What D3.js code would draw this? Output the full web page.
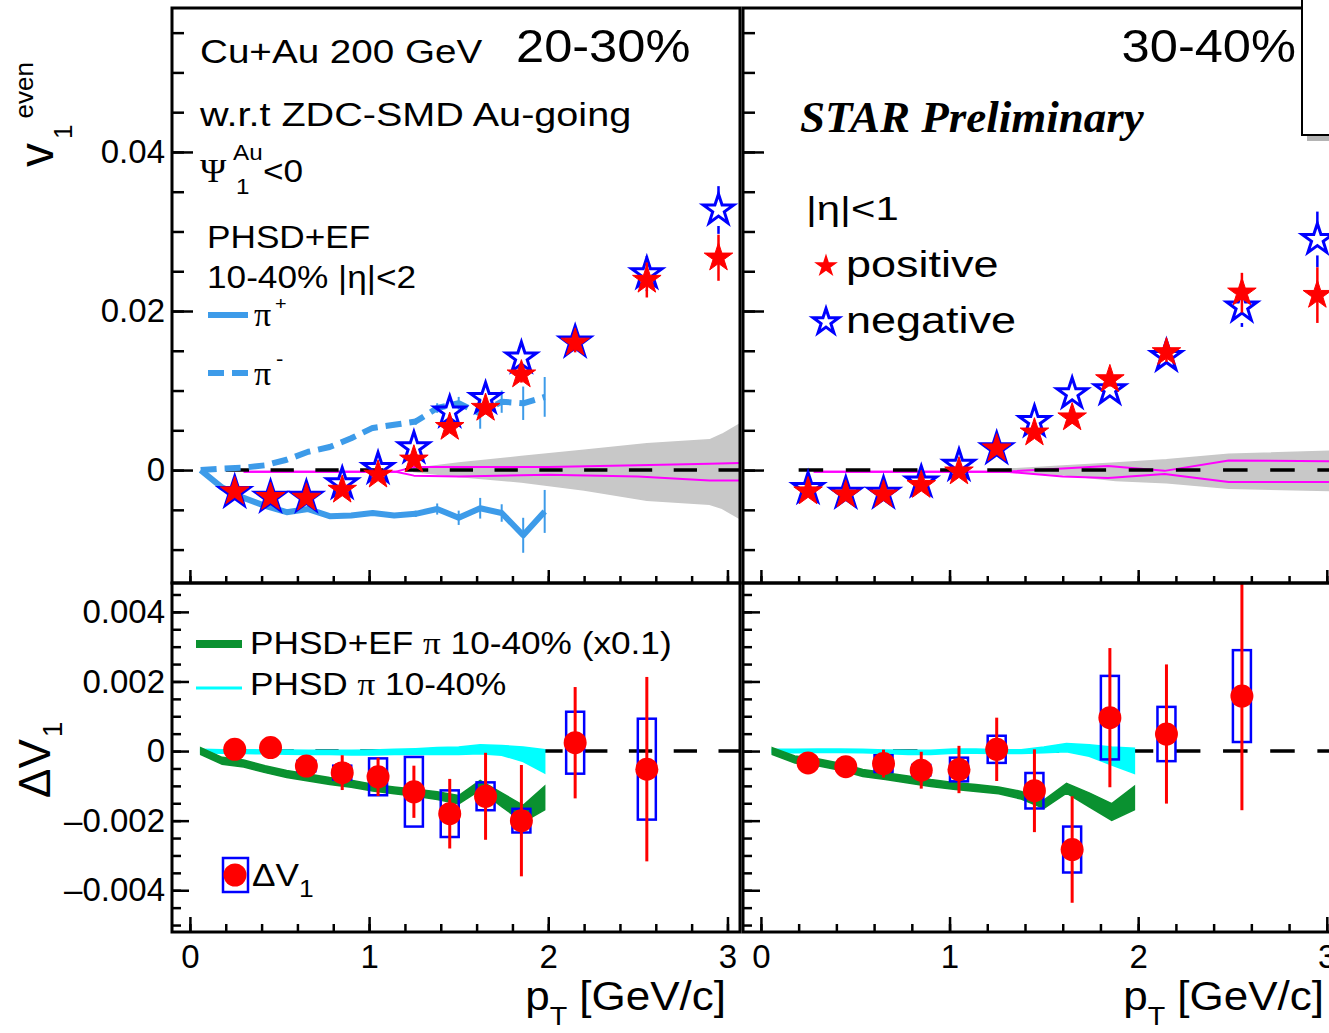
<!DOCTYPE html>
<meta charset="utf-8">
<title>Cu+Au v1 even / Delta v1</title>
<style>
  body { margin: 0; background: #fff; }
  svg { display: block; }
  text { font-family: "Liberation Sans", Arial, sans-serif; fill: #000; }
</style>
<body>
<script src="https://d3js.org/d3.v7.min.js"></script>
<script>

// ---- values ----
let ptBins = [0.25, 0.45, 0.65, 0.85, 1.05, 1.25, 1.45, 1.65, 1.85, 2.15, 2.55, 2.95];

// v1 even, 20-30%
let pos2030 = [-0.0027, -0.0034, -0.0035, -0.0025, -0.0006, 0.0013, 0.0054, 0.0078, 0.0120, 0.0160, 0.0239, 0.0267];
let pos2030Err = [0.0003, 0.0003, 0.0003, 0.0003, 0.0004, 0.0005, 0.0006, 0.0008, 0.0010, 0.0012, 0.0022, 0.0029];
let neg2030 = [-0.0028, -0.0034, -0.0034, -0.0017, 0.0002, 0.0028, 0.0073, 0.0090, 0.0141, 0.0161, 0.0247, 0.0327];
let neg2030Err = [0.0003, 0.0003, 0.0003, 0.0003, 0.0004, 0.0005, 0.0006, 0.0008, 0.0010, 0.0012, 0.0022, 0.0030];

// v1 even, 30-40%
let pos3040 = [-0.0027, -0.0031, -0.0031, -0.0019, -0.0002, 0.0027, 0.0047, 0.0066, 0.0114, 0.0148, 0.0223, 0.0220];
let pos3040Err = [0.0003, 0.0003, 0.0003, 0.0003, 0.0004, 0.0005, 0.0006, 0.0008, 0.0009, 0.0012, 0.0025, 0.0035];
let neg3040 = [-0.0023, -0.0029, -0.0029, -0.0015, 0.0006, 0.0027, 0.0061, 0.0096, 0.0101, 0.0143, 0.0205, 0.0290];
let neg3040Err = [0.0003, 0.0003, 0.0003, 0.0003, 0.0004, 0.0005, 0.0006, 0.0008, 0.0009, 0.0012, 0.0025, 0.0035];

// delta v1 (first 11 bins)
let dvPt = [0.25, 0.45, 0.65, 0.85, 1.05, 1.25, 1.45, 1.65, 1.85, 2.15, 2.55];
let dv2030 = [0.00005, 0.0001, -0.00043, -0.00062, -0.00074, -0.00117, -0.0018, -0.0013, -0.0020, 0.00024, -0.00052];
let dv2030Stat = [0.0001, 0.0001, 0.0003, 0.0005, 0.00055, 0.00075, 0.0010, 0.00125, 0.0016, 0.0016, 0.00265];
let dv2030Sys = [0.0001, 0.0001, 0.00015, 0.0002, 0.00053, 0.0010, 0.00067, 0.0004, 0.00034, 0.00089, 0.00145];
let dv3040 = [-0.00034, -0.00045, -0.00036, -0.00055, -0.00053, 0.00005, -0.00114, -0.00283, 0.00096, 0.00049, 0.00158];
let dv3040Stat = [0.0002, 0.0002, 0.0004, 0.00053, 0.00068, 0.00091, 0.00119, 0.00153, 0.0020, 0.0020, 0.00328];
let dv3040Sys = [0.0001, 0.0001, 0.00024, 0.00015, 0.00034, 0.00039, 0.00051, 0.00066, 0.0012, 0.00078, 0.00132];

// PHSD+EF pion curves
let modelPt = [0.06, 0.18, 0.30, 0.42, 0.54, 0.66, 0.78, 0.90, 1.02, 1.14, 1.26, 1.38, 1.50, 1.62, 1.74, 1.86, 1.98];
let piPlus = [0, -0.0022, -0.0035, -0.0045, -0.0053, -0.0049, -0.0058, -0.0057, -0.0054, -0.0057, -0.0055, -0.0049, -0.0060, -0.0048, -0.0054, -0.0082, -0.0052];
let piPlusErr = [0, 0, 0, 0, 0, 0, 0, 0, 0.0003, 0.0003, 0.0004, 0.0007, 0.0009, 0.0013, 0.0011, 0.0022, 0.0027];
let piMinus = [0, 0.0002, 0.0003, 0.0006, 0.0013, 0.0023, 0.0029, 0.0040, 0.0053, 0.0057, 0.0061, 0.0078, 0.0084, 0.0071, 0.0086, 0.0084, 0.0092];
let piMinusErr = [0, 0, 0, 0, 0, 0, 0, 0.0002, 0.0003, 0.0003, 0.0004, 0.0006, 0.0008, 0.0019, 0.0014, 0.0021, 0.0025];

// PHSD+EF pi delta v1 (x0.1) and PHSD pi band
let ef2030 = [0, -0.00028, -0.00036, -0.00052, -0.00066, -0.00076, -0.00086, -0.00094, -0.00105, -0.00113, -0.0012, -0.00128, -0.0014, -0.00098, -0.0014, -0.0018, -0.00135];
let ef3040 = [0, -0.00024, -0.00032, -0.00045, -0.00063, -0.00072, -0.00082, -0.00092, -0.0010, -0.00106, -0.00113, -0.00127, -0.00153, -0.00107, -0.0014, -0.00175, -0.00135];
let efHalf = [0.0001, 0.0001, 0.0001, 0.0001, 0.0001, 0.0001, 0.0001, 0.0001, 0.0001, 0.0001, 0.0001, 0.00011, 0.00012, 0.00014, 0.0002, 0.00024, 0.00034];
let phsdLo2030 = [-0.00005, -0.00006, -0.00007, -0.00008, -0.00009, -0.0001, -0.0001, -0.00011, -0.00011, -0.0001, -0.0001, -0.0001, -0.0001, -0.00008, -0.00012, -0.0003, -0.00063];
let phsdHi2030 = [0.00005, 0.00004, 0.00004, 0.00003, 0.00003, 0.00002, 0.00002, 0.00002, 0.00003, 0.00005, 0.00007, 0.0001, 0.00012, 0.00018, 0.00016, 0.00012, 0.00004];
let phsdLo3040 = [-0.00005, -0.00005, -0.00004, -0.00004, -0.00005, -0.00007, -0.0001, -0.0001, -0.00006, -0.00006, -0.00007, -0.00007, -0.00005, -0.00002, -0.00015, -0.0004, -0.00064];
let phsdHi3040 = [0.00005, 0.00005, 0.00006, 0.00006, 0.00005, 0.00003, 0.00002, 0.00002, 0.00006, 0.00006, 0.00004, 0.00004, 0.00012, 0.00022, 0.00018, 0.00012, 0.00008];

// grey band + magenta lines around zero in the top panels
let bandPt2030 = [1.25, 1.5, 1.85, 2.2, 2.55, 2.9, 2.97, 3.07];
let bandHi2030 = [0.0002, 0.0009, 0.0017, 0.0025, 0.0033, 0.0038, 0.0045, 0.0058];
let bandLo2030 = [-0.0002, -0.0008, -0.0015, -0.0025, -0.0038, -0.0043, -0.0048, -0.0061];
let magPt2030 = [0.3, 1.15, 1.25, 1.5, 2.0, 2.5, 2.9, 3.07];
let magHi2030 = [-0.0002, -0.0002, 0.0004, 0.0004, 0.0004, 0.0006, 0.0008, 0.0009];
let magLo2030 = [-0.0002, -0.0002, -0.0007, -0.0008, -0.0006, -0.0008, -0.0013, -0.0013];
let bandPt3040 = [1.3, 1.6, 1.88, 2.15, 2.48, 3.07];
let bandHi3040 = [0.0001, 0.0005, 0.0009, 0.0013, 0.0020, 0.0024];
let bandLo3040 = [-0.0001, -0.0006, -0.0013, -0.0016, -0.0023, -0.0026];
let magPt3040 = [0.28, 1.3, 1.6, 1.84, 2.14, 2.48, 3.07];
let magHi3040 = [-0.0002, -0.0002, 0.0002, 0.0005, -0.0001, 0.0012, 0.0011];
let magLo3040 = [-0.0002, -0.0002, -0.0008, -0.0010, -0.0005, -0.0015, -0.0015];

// ticks
let xMajor = [0, 1, 2, 3];
let xLabels = ['0', '1', '2', '3'];
let xMinor = d3.range(0, 16).map(i => i / 5);
let yTopMajor = [0, 0.02, 0.04];
let yTopLabels = ['0', '0.02', '0.04'];
let yTopMinor = d3.range(-2, 12).map(i => i * 0.005);
let yBotMajor = [-0.004, -0.002, 0, 0.002, 0.004];
let yBotLabels = ['\u20130.004', '\u20130.002', '0', '0.002', '0.004'];
let yBotMinor = d3.range(-10, 10).map(i => i * 0.0005);

// ---- layout ----
let W = 1329, H = 1033;
let red = '#ff0000', blue = '#0000ff', piBlue = '#3d9be9';
let serif = '"Liberation Serif", "Times New Roman", serif';

let svg = d3.select('body').append('svg').attr('width', W).attr('height', H);
let defs = svg.append('defs');

let xL = d3.scaleLinear().domain([-0.1, 3.07]).range([172, 740]);
let xR = d3.scaleLinear().domain([-0.095, 3.07]).range([743, 1340]);
let yTop = d3.scaleLinear().domain([-0.0142, 0.0581]).range([583, 8]);
let yBot = d3.scaleLinear().domain([-0.0052, 0.00483]).range([932, 583]);

function makePanel(id, x, y) {
    let [x0, x1] = x.range(), [y1, y0] = y.range();
    defs.append('clipPath').attr('id', `clip-${id}`)
        .append('rect').attr('x', x0).attr('y', y0).attr('width', x1 - x0).attr('height', y1 - y0);
    let g = svg.append('g').attr('clip-path', `url(#clip-${id})`);
    return { id, x, y, g };
}

let tl = makePanel('tl', xL, yTop);
let tr = makePanel('tr', xR, yTop);
let bl = makePanel('bl', xL, yBot);
let br = makePanel('br', xR, yBot);

let zip = (xs, ...cols) => xs.map((x, i) => [x, ...cols.map(c => c[i])]);
let starPath = r => d3.symbol(d3.symbolStar, r * r / 0.8908130915292852)();

function zeroLine(p) {
    let k = p.x(1) - p.x(0);
    p.g.append('line')
        .attr('x1', p.x(0.2)).attr('x2', p.x.range()[1])
        .attr('y1', p.y(0)).attr('y2', p.y(0))
        .attr('stroke', '#000').attr('stroke-width', 3.5)
        .attr('stroke-dasharray', `${0.13 * k},${0.12 * k}`);
}

function band(p, pts, lo, hi, color) {
    p.g.append('path')
        .datum(zip(pts, lo, hi))
        .attr('fill', color).attr('stroke', color).attr('stroke-width', 1.5)
        .attr('d', d3.area().x(d => p.x(d[0])).y0(d => p.y(d[1])).y1(d => p.y(d[2])));
}

function curve(p, pts, vals, color, width, dash) {
    p.g.append('path')
        .datum(zip(pts, vals))
        .attr('fill', 'none').attr('stroke', color).attr('stroke-width', width)
        .attr('stroke-linejoin', 'round')
        .attr('stroke-dasharray', dash || null)
        .attr('d', d3.line().x(d => p.x(d[0])).y(d => p.y(d[1])));
}

function modelErrs(p, vals, errs) {
    p.g.append('g').selectAll('line')
        .data(zip(modelPt, vals, errs).filter(d => d[2] > 0))
        .join('line')
            .attr('x1', d => p.x(d[0])).attr('x2', d => p.x(d[0]))
            .attr('y1', d => p.y(d[1] + d[2])).attr('y2', d => p.y(d[1] - d[2]))
            .attr('stroke', piBlue).attr('stroke-width', 2);
}

function stars(p, vals, errs, color, open, R) {
    let pts = zip(ptBins, vals, errs);
    let eb = p.g.append('g').attr('stroke', color).attr('stroke-width', 2.5);
    let gap = open ? R : 0;
    pts.forEach(d => {
        let cx = p.x(d[0]), cy = p.y(d[1]);
        let top = p.y(d[1] + d[2]), bot = p.y(d[1] - d[2]);
        if (cy - top > gap) eb.append('line').attr('x1', cx).attr('x2', cx).attr('y1', top).attr('y2', cy - gap);
        if (bot - cy > gap) eb.append('line').attr('x1', cx).attr('x2', cx).attr('y1', cy + gap).attr('y2', bot);
    });
    p.g.append('g').selectAll('path').data(pts).join('path')
        .attr('transform', d => `translate(${p.x(d[0])},${p.y(d[1])})`)
        .attr('d', starPath(R))
        .attr('fill', open ? 'none' : color)
        .attr('stroke', color).attr('stroke-width', open ? 3 : 1);
}

function deltaPoints(p, vals, stat, sys) {
    let pts = zip(dvPt, vals, stat, sys);
    p.g.append('g').selectAll('rect').data(pts).join('rect')
        .attr('x', d => p.x(d[0]) - 9).attr('width', 18)
        .attr('y', d => p.y(d[1] + d[3]))
        .attr('height', d => p.y(d[1] - d[3]) - p.y(d[1] + d[3]))
        .attr('fill', 'none').attr('stroke', blue).attr('stroke-width', 2.5);
    p.g.append('g').selectAll('line').data(pts).join('line')
        .attr('x1', d => p.x(d[0])).attr('x2', d => p.x(d[0]))
        .attr('y1', d => p.y(d[1] + d[2])).attr('y2', d => p.y(d[1] - d[2]))
        .attr('stroke', red).attr('stroke-width', 3);
    p.g.append('g').selectAll('circle').data(pts).join('circle')
        .attr('cx', d => p.x(d[0])).attr('cy', d => p.y(d[1]))
        .attr('r', 11.5).attr('fill', red);
}

// top panels
band(tl, bandPt2030, bandLo2030, bandHi2030, '#c8c8c8');
curve(tl, magPt2030, magHi2030, '#ff00ff', 2);
curve(tl, magPt2030, magLo2030, '#ff00ff', 2);
zeroLine(tl);
modelErrs(tl, piPlus, piPlusErr);
modelErrs(tl, piMinus, piMinusErr);
curve(tl, modelPt, piPlus, piBlue, 6);
curve(tl, modelPt, piMinus, piBlue, 6, '16,8');
stars(tl, neg2030, neg2030Err, blue, true, 16);
stars(tl, pos2030, pos2030Err, red, false, 15);

band(tr, bandPt3040, bandLo3040, bandHi3040, '#c8c8c8');
curve(tr, magPt3040, magHi3040, '#ff00ff', 2);
curve(tr, magPt3040, magLo3040, '#ff00ff', 2);
zeroLine(tr);
stars(tr, neg3040, neg3040Err, blue, true, 16);
stars(tr, pos3040, pos3040Err, red, false, 15);

// bottom panels
zeroLine(bl);
band(bl, modelPt, phsdLo2030, phsdHi2030, '#00ffff');
band(bl, modelPt, ef2030.map((v, i) => v - efHalf[i]), ef2030.map((v, i) => v + efHalf[i]), '#0a9130');
deltaPoints(bl, dv2030, dv2030Stat, dv2030Sys);

zeroLine(br);
band(br, modelPt, phsdLo3040, phsdHi3040, '#00ffff');
band(br, modelPt, ef3040.map((v, i) => v - efHalf[i]), ef3040.map((v, i) => v + efHalf[i]), '#0a9130');
deltaPoints(br, dv3040, dv3040Stat, dv3040Sys);

// frames and ticks
function axes(p, yMajor, yMinor, yLabels, yLen, xLen, withXLabels, withYLabels) {
    let [x0, x1] = p.x.range(), [yb, yt] = p.y.range();
    let g = svg.append('g');
    let clean = a => { a.select('.domain').remove(); a.selectAll('line').attr('stroke-width', 2.5); };

    g.append('g').attr('transform', `translate(${x0},0)`)
        .call(d3.axisRight(p.y).tickValues(yMinor).tickSize(yLen[1]).tickFormat('')).call(clean);
    g.append('g').attr('transform', `translate(${x0},0)`)
        .call(d3.axisRight(p.y).tickValues(yMajor).tickSize(yLen[0]).tickFormat('')).call(clean);
    g.append('g').attr('transform', `translate(0,${yb})`)
        .call(d3.axisTop(p.x).tickValues(xMinor).tickSize(xLen[1]).tickFormat('')).call(clean);
    g.append('g').attr('transform', `translate(0,${yb})`)
        .call(d3.axisTop(p.x).tickValues(xMajor).tickSize(xLen[0]).tickFormat('')).call(clean);

    if (withYLabels) {
        g.append('g').attr('transform', `translate(${x0},0)`)
            .call(d3.axisLeft(p.y).tickValues(yMajor).tickSize(0).tickPadding(7)
                .tickFormat((d, i) => yLabels[i]))
            .call(a => a.select('.domain').remove())
            .attr('font-size', 33).attr('font-family', null);
    }
    if (withXLabels) {
        g.append('g').attr('transform', `translate(0,${yb})`)
            .call(d3.axisBottom(p.x).tickValues(xMajor).tickSize(0).tickPadding(13)
                .tickFormat((d, i) => xLabels[i]))
            .call(a => a.select('.domain').remove())
            .attr('font-size', 33).attr('font-family', null);
    }
    g.append('rect')
        .attr('x', x0).attr('y', yt).attr('width', x1 - x0).attr('height', yb - yt)
        .attr('fill', 'none').attr('stroke', '#000').attr('stroke-width', 3);
}

axes(tl, yTopMajor, yTopMinor, yTopLabels, [21, 12], [13, 7], false, true);
axes(tr, yTopMajor, yTopMinor, yTopLabels, [21, 12], [13, 7], false, false);
axes(bl, yBotMajor, yBotMinor, yBotLabels, [17, 9], [15, 8], true, true);
axes(br, yBotMajor, yBotMinor, yBotLabels, [17, 9], [15, 8], true, false);

// ---- text ----
// the figure's sans text is a little wider than Liberation Sans, hence the x-stretch
function txt(x, y, size, anchor, sx) {
    return svg.append('text')
        .attr('transform', `translate(${x},${y}) scale(${sx || 1.1},1)`)
        .attr('font-size', size)
        .attr('text-anchor', anchor || 'start');
}

txt(200, 63, 33, 'start', 1.17).text('Cu+Au 200 GeV');
txt(516, 62, 46).text('20-30%');
txt(200, 126, 33, 'start', 1.2).text('w.r.t ZDC-SMD Au-going');
txt(200, 182, 34, 'start', 1.05).style('font-family', serif).text('\u03a8');
txt(233, 160, 22).text('Au');
txt(236, 194, 22).text('1');
txt(263, 182, 32).text('<0');
txt(207, 248, 32).text('PHSD+EF');
txt(207, 288, 32).text('10-40% |\u03b7|<2');

svg.append('line').attr('x1', 208).attr('x2', 248).attr('y1', 315).attr('y2', 315)
    .attr('stroke', piBlue).attr('stroke-width', 6);
svg.append('line').attr('x1', 208).attr('x2', 248).attr('y1', 373).attr('y2', 373)
    .attr('stroke', piBlue).attr('stroke-width', 6).attr('stroke-dasharray', '16,8');
txt(254, 326, 34, 'start', 1).style('font-family', serif).text('\u03c0');
txt(275, 310, 18).text('+');
txt(254, 385, 34, 'start', 1).style('font-family', serif).text('\u03c0');
txt(276, 366, 20).text('-');

txt(1296, 62, 46, 'end').text('30-40%');
svg.append('text').attr('x', 800).attr('y', 132)
    .style('font-family', serif)
    .attr('font-weight', 'bold').attr('font-style', 'italic').attr('font-size', 45)
    .text('STAR Preliminary');
txt(806, 220, 34, 'start', 1.23).text('|\u03b7|<1');
svg.append('path').attr('d', starPath(12.5)).attr('transform', 'translate(826,266)').attr('fill', red);
svg.append('path').attr('d', starPath(13.5)).attr('transform', 'translate(826,322)')
    .attr('fill', 'none').attr('stroke', blue).attr('stroke-width', 3);
txt(846, 277, 36, 'start', 1.25).text('positive');
txt(846, 333, 36, 'start', 1.25).text('negative');

// legend box in the corner
svg.append('rect').attr('x', 1307).attr('y', -5).attr('width', 60).attr('height', 146).attr('fill', '#b4b4b4');
svg.append('rect').attr('x', 1302).attr('y', -5).attr('width', 60).attr('height', 140)
    .attr('fill', '#fff').attr('stroke', '#000').attr('stroke-width', 2);

// bottom legend
svg.append('line').attr('x1', 196).attr('x2', 242).attr('y1', 644).attr('y2', 644)
    .attr('stroke', '#0a9130').attr('stroke-width', 8);
svg.append('line').attr('x1', 196).attr('x2', 242).attr('y1', 688).attr('y2', 688)
    .attr('stroke', '#00ffff').attr('stroke-width', 3);
let l1 = txt(250, 654, 32);
l1.append('tspan').text('PHSD+EF ');
l1.append('tspan').style('font-family', serif).text('\u03c0');
l1.append('tspan').text(' 10-40% (x0.1)');
let l2 = txt(250, 695, 32);
l2.append('tspan').text('PHSD ');
l2.append('tspan').style('font-family', serif).text('\u03c0');
l2.append('tspan').text(' 10-40%');

svg.append('rect').attr('x', 223).attr('y', 858).attr('width', 25).attr('height', 34)
    .attr('fill', 'none').attr('stroke', blue).attr('stroke-width', 2.5);
svg.append('circle').attr('cx', 235).attr('cy', 875).attr('r', 11.5).attr('fill', red);
let l3 = txt(252, 886, 32);
l3.append('tspan').text('\u0394V');
l3.append('tspan').attr('font-size', 24).attr('dy', 11).text('1');

// axis titles
let vt = svg.append('text').attr('transform', 'translate(53,167) rotate(-90)').attr('font-size', 48);
vt.append('tspan').text('v');
vt.append('tspan').attr('font-size', 26).attr('dx', 4).attr('dy', 19).text('1');
vt.append('tspan').attr('font-size', 26).attr('dx', 6).attr('dy', -39).text('even');

let dt = svg.append('text').attr('transform', 'translate(50,798) rotate(-90)').attr('font-size', 44);
dt.append('tspan').text('\u0394V');
dt.append('tspan').attr('font-size', 28).attr('dx', 2).attr('dy', 12).text('1');

[726, 1324].forEach(xEnd => {
    let t = txt(xEnd, 1010, 40, 'end');
    t.append('tspan').text('p');
    t.append('tspan').attr('font-size', 26).attr('dy', 15).text('T');
    t.append('tspan').attr('dy', -15).text(' [GeV/c]');
});

</script>
</body>
